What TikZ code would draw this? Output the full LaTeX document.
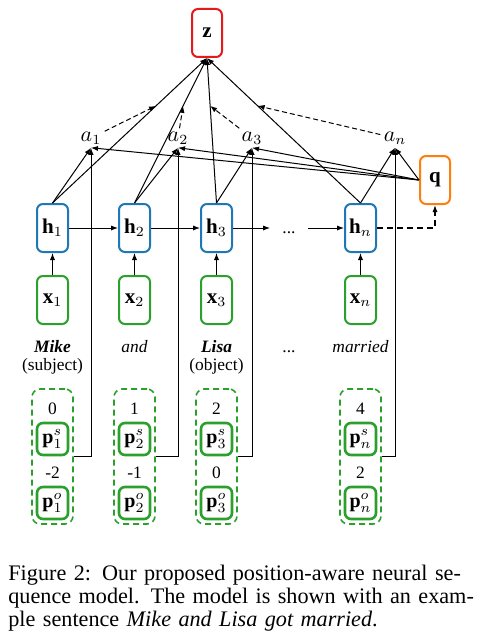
\documentclass[tikz,border=0pt]{standalone}
\usepackage{fontspec}
\setmainfont{Liberation Serif}
\usepackage{amsmath}
\usetikzlibrary{arrows.meta,calc}
\definecolor{zred}{HTML}{E41A1C}
\definecolor{hblue}{HTML}{1F77B4}
\definecolor{xgreen}{HTML}{2CA02C}
\definecolor{qorange}{HTML}{FF7F0E}

\begin{document}
\begin{tikzpicture}[x=.5pt,y=-.5pt,>={Latex[length=3.5pt,width=2.6pt]},
      cell/.style={draw,fill=white,line width=1pt,rounded corners=3pt,minimum width=15.5pt,
                   minimum height=24pt,inner sep=1pt,font=\fontsize{10.5}{12}\selectfont},
      zcell/.style={cell,draw=zred,minimum width=15pt},
      hcell/.style={cell,draw=hblue},
      xcell/.style={cell,draw=xgreen},
      qcell/.style={cell,draw=qorange,minimum width=15pt},
      pcell/.style={cell,draw=xgreen,line width=1.3pt,minimum height=16pt,inner sep=.5pt,
                   font=\fontsize{10}{11}\selectfont},
      pgroup/.style={draw=xgreen,dash pattern=on 3pt off 2pt,line width=.8pt,rounded corners=4pt,
                   minimum width=20.5pt,minimum height=67.5pt,inner sep=0pt},
      weight/.style={inner sep=1.5pt,font=\fontsize{10.5}{12}\selectfont},
      word/.style={inner sep=0pt,text height=6pt,text depth=2pt,font=\fontsize{8.7}{10}\selectfont},
      flow/.style={->,line width=.5pt},
      attn/.style={->,line width=.5pt,dash pattern=on 2.5pt off 1.5pt},
      final/.style={->,line width=1pt,dash pattern=on 3pt off 2pt}]
    \useasboundingbox (0,0) rectangle (477,642);
    % output
    \node[zcell] (z) at (207,33) {$\mathbf{z}$};
    % attention weights
    \node[weight] (a1) at (91,138) {$a_1$};
    \node[weight] (a2) at (178,138) {$a_2$};
    \node[weight] (a3) at (252,138) {$a_3$};
    \node[weight] (an) at (395,138) {$a_n$};
    \node[qcell] (q) at (435,180) {$\mathbf{q}$};
    % hidden states
    \node[hcell] (h1) at (52.5,228) {$\mathbf{h}_1$};
    \node[hcell] (h2) at (134.5,228) {$\mathbf{h}_2$};
    \node[hcell] (h3) at (216.5,228) {$\mathbf{h}_3$};
    \node[word,text height=5pt,text depth=0pt,inner xsep=6pt] (hdots) at (289,228) {...};
    \node[hcell] (hn) at (360.5,228) {$\mathbf{h}_n$};
    \draw[flow] (h1) -- (h2);
    \draw[flow] (h2) -- (h3);
    \draw[flow] (h3) -- (hdots);
    \draw[flow] (hdots) -- (hn);
    \draw[final] (hn.east) -| (q.south);
    % inputs
    \node[xcell] (x1) at (52.5,300) {$\mathbf{x}_1$};
    \node[xcell] (x2) at (134.5,300) {$\mathbf{x}_2$};
    \node[xcell] (x3) at (216.5,300) {$\mathbf{x}_3$};
    \node[xcell] (xn) at (360.5,300) {$\mathbf{x}_n$};
    \draw[flow] (x1) -- (h1);
    \draw[flow] (x2) -- (h2);
    \draw[flow] (x3) -- (h3);
    \draw[flow] (xn) -- (hn);
    % sentence
    \node[word] (w1) at (52.5,348) {\textbf{\textit{Mike}}};
    \node[word] (r1) at (52.5,366) {(subject)};
    \node[word] (w2) at (134.5,348) {\textit{and}};
    \node[word] (w3) at (216.5,348) {\textbf{\textit{Lisa}}};
    \node[word] (r3) at (216.5,366) {(object)};
    \node[word] (wdots) at (289,348) {...};
    \node[word] (wn) at (360.5,348) {\textit{married}};
    % position embeddings
    \node[pgroup] (g1) at (52.5,456.5) {};
    \node[word] (s1) at (52.5,410) {0};
    \node[pcell] (ps1) at (52.5,439) {$\mathbf{p}^s_1$};
    \node[word] (o1) at (52.5,474) {-2};
    \node[pcell] (po1) at (52.5,503) {$\mathbf{p}^o_1$};
    \node[pgroup] (g2) at (134.5,456.5) {};
    \node[word] (s2) at (134.5,410) {1};
    \node[pcell] (ps2) at (134.5,439) {$\mathbf{p}^s_2$};
    \node[word] (o2) at (134.5,474) {-1};
    \node[pcell] (po2) at (134.5,503) {$\mathbf{p}^o_2$};
    \node[pgroup] (g3) at (216.5,456.5) {};
    \node[word] (s3) at (216.5,410) {2};
    \node[pcell] (ps3) at (216.5,439) {$\mathbf{p}^s_3$};
    \node[word] (o3) at (216.5,474) {0};
    \node[pcell] (po3) at (216.5,503) {$\mathbf{p}^o_3$};
    \node[pgroup] (gn) at (360.5,456.5) {};
    \node[word] (sn) at (360.5,410) {4};
    \node[pcell] (psn) at (360.5,439) {$\mathbf{p}^s_n$};
    \node[word] (on) at (360.5,474) {2};
    \node[pcell] (pon) at (360.5,503) {$\mathbf{p}^o_n$};
    % attention inputs
    \draw[flow] (g1.east) -| (a1.south);
    \draw[flow] (g2.east) -| (a2.south);
    \draw[flow] (g3.east) -| (a3.south);
    \draw[flow] (gn.east) -| (an.south);
    \draw[flow] (h1.north) -- (a1.south);
    \draw[flow] (h2.north) -- (a2.south);
    \draw[flow] (h3.north) -- (a3.south);
    \draw[flow] (hn.north) -- (an.south);
    \draw[flow] (q.west) -- (a1.south);
    \draw[flow] (q.west) -- (a2.south);
    \draw[flow] (q.west) -- (a3.south);
    \draw[flow] (q.west) -- (an.south);
    % weighted sum
    \draw[flow] (h1.north) -- (z.south);
    \draw[flow] (h2.north) -- (z.south);
    \draw[flow] (h3.north) -- (z.south);
    \draw[flow] (hn.north) -- (z.south);
    \coordinate (m1) at ($(h1.north)!.67!(z.south)$);
    \coordinate (m2) at ($(h2.north)!.67!(z.south)$);
    \coordinate (m3) at ($(h3.north)!.67!(z.south)$);
    \coordinate (mn) at ($(hn.north)!.67!(z.south)$);
    \draw[attn] (a1) -- (m1);
    \draw[attn] (a2) -- (m2);
    \draw[attn] (a3) -- (m3);
    \draw[attn] (an) -- (mn);
    % caption
    \node[anchor=north west,inner sep=0pt,align=left,text width=229pt,
          font=\fontsize{11.1}{11.4}\selectfont] (cap) at (8,565)
      {\makebox[229pt][s]{Figure 2: Our proposed position-aware neural se-}\\
       \makebox[229pt][s]{quence model. The model is shown with an exam-}\\
       ple sentence \textit{Mike and Lisa got married}.};
\end{tikzpicture}
\end{document}
